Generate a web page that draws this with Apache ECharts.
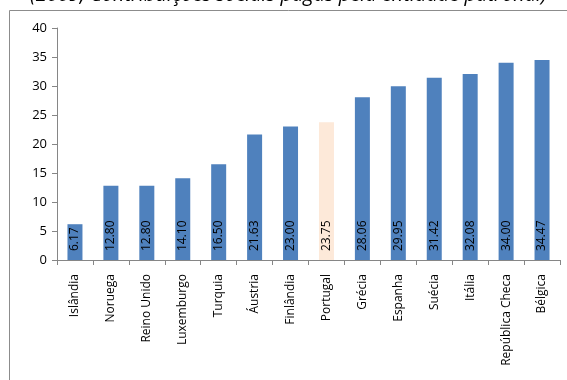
<!DOCTYPE html>
<html>
<head>
<meta charset="utf-8">
<script src="https://cdn.jsdelivr.net/npm/echarts@6/dist/echarts.min.js"></script>
<style>
html,body{margin:0;padding:0;background:#fff;}
#chart{width:567px;height:380px;}
</style>
</head>
<body>
<div id="chart"></div>
<script>
const countries = ['Islândia','Noruega','Reino Unido','Luxemburgo','Turquia','Áustria','Finlândia','Portugal','Grécia','Espanha','Suécia','Itália','República Checa','Bélgica'];
const values = [6.17, 12.80, 12.80, 14.10, 16.50, 21.63, 23.00, 23.75, 28.06, 29.95, 31.42, 32.08, 34.00, 34.47];
const highlighted = 'Portugal';
const yTicks = [0, 5, 10, 15, 20, 25, 30, 35, 40];
const titleText = '(2009, Contribuições sociais pagas pela entidade patronal)';

const font = '"Open Sans", "DejaVu Sans", sans-serif';
const chart = echarts.init(document.getElementById('chart'), null, {renderer: 'canvas'});

chart.setOption({
  animation: false,
  backgroundColor: '#fff',
  grid: {left: 57, right: 7, top: 28, bottom: 120, containLabel: false},
  graphic: [
    {type: 'line', shape: {x1: 9.5, y1: 10.5, x2: 567, y2: 10.5}, style: {stroke: '#8c8c8c', lineWidth: 1}},
    {type: 'line', shape: {x1: 9.5, y1: 10.5, x2: 9.5, y2: 380}, style: {stroke: '#8c8c8c', lineWidth: 1}},
    {type: 'text', left: 30, top: -15,
     style: {text: titleText, font: 'italic 20px ' + font, fill: '#000'}}
  ],
  xAxis: {
    type: 'category',
    data: countries,
    axisLine: {lineStyle: {color: '#868686'}},
    axisTick: {show: true, length: 5, lineStyle: {color: '#868686'}},
    axisLabel: {rotate: 90, interval: 0, margin: 14, color: '#000', fontSize: 12, fontFamily: font}
  },
  yAxis: {
    type: 'value',
    min: yTicks[0],
    max: yTicks[yTicks.length - 1],
    interval: 5,
    splitLine: {show: false},
    axisLine: {show: true, lineStyle: {color: '#868686'}},
    axisTick: {show: true, length: 5, lineStyle: {color: '#868686'}},
    axisLabel: {color: '#000', fontSize: 13, margin: 10, fontFamily: font}
  },
  series: [{
    type: 'bar',
    barWidth: 15,
    data: values.map((v, i) => ({
      value: v,
      itemStyle: {color: countries[i] === highlighted ? '#FDE9D9' : '#4F81BD'}
    })),
    label: {
      show: true,
      position: 'insideBottom',
      rotate: 90,
      align: 'left',
      verticalAlign: 'middle',
      distance: 9,
      color: '#000',
      fontSize: 12,
      fontFamily: font,
      formatter: p => p.value.toFixed(2)
    }
  }]
});
</script>
</body>
</html>
